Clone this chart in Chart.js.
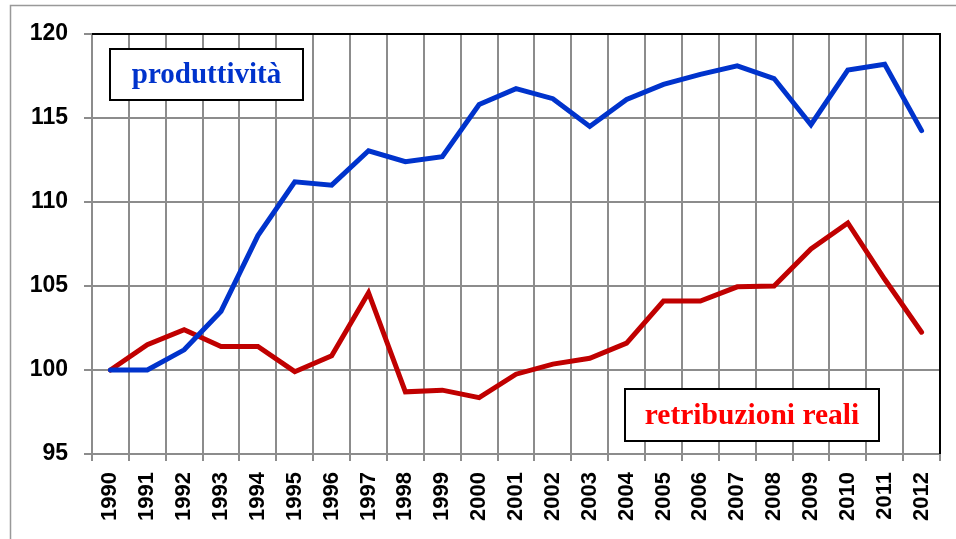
<!DOCTYPE html>
<html>
<head>
<meta charset="utf-8">
<script src="https://cdn.jsdelivr.net/npm/chart.js@4/dist/chart.umd.min.js"></script>
<style>
    html, body { margin: 0; padding: 0; background: #fff; }
    #wrap { width: 956px; height: 539px; }
</style>
</head>
<body>
<div id="wrap"><canvas id="chart" width="956" height="539"></canvas></div>
<script>
const years = ['1990', '1991', '1992', '1993', '1994', '1995', '1996', '1997', '1998', '1999', '2000', '2001',
    '2002', '2003', '2004', '2005', '2006', '2007', '2008', '2009', '2010', '2011', '2012'];
const produttivita = [100, 100.0, 101.2, 103.5, 108.0, 111.2, 111.0, 113.05, 112.4, 112.7, 115.8, 116.75,
    116.15, 114.5, 116.1, 117.0, 117.6, 118.1, 117.35, 114.6, 117.85, 118.2, 114.25];
const retribuzioni = [100, 101.5, 102.4, 101.4, 101.4, 99.9, 100.85, 104.6, 98.7, 98.8, 98.35, 99.75,
    100.35, 100.7, 101.6, 104.1, 104.1, 104.95, 105.0, 107.2, 108.75, 105.4, 102.25];
const yTicks = [95, 100, 105, 110, 115, 120];

const gridColor = '#8c8c8c';

// frame, top/right border and the two label boxes
const decorPlugin = {
    id: 'decor',
    beforeDraw(chart) {
        const c = chart.ctx;
        c.save();
        c.strokeStyle = '#999';
        c.lineWidth = 1.5;
        c.beginPath();
        c.moveTo(10.5, 539);
        c.lineTo(10.5, 5.5);
        c.lineTo(956, 5.5);
        c.stroke();
        c.restore();
    },
    afterDraw(chart) {
        const c = chart.ctx;
        const a = chart.chartArea;
        c.save();
        c.strokeStyle = '#000';
        c.lineWidth = 2;
        c.beginPath();
        c.moveTo(a.left, a.top);
        c.lineTo(a.right, a.top);
        c.lineTo(a.right, a.bottom);
        c.stroke();

        function box(x, y, w, h, text, color, size) {
            c.fillStyle = '#fff';
            c.fillRect(x, y, w, h);
            c.strokeStyle = '#000';
            c.lineWidth = 2;
            c.strokeRect(x, y, w, h);
            c.fillStyle = color;
            c.font = 'bold ' + size + 'px "Liberation Serif", "DejaVu Serif", serif';
            c.textAlign = 'center';
            c.textBaseline = 'middle';
            c.fillText(text, x + w / 2, y + h / 2 + 1);
        }
        box(a.left + 18, a.top + 15, 193, 51, 'produttività', '#0033cc', 29);
        box(a.left + 533, a.top + 355, 254, 52, 'retribuzioni reali', '#ff0000', 29.5);
        c.restore();
    }
};

const ctx = document.getElementById('chart').getContext('2d');
new Chart(ctx, {
    type: 'line',
    data: {
        labels: years,
        datasets: [
            {
                label: 'produttività',
                data: produttivita,
                borderColor: '#0033cc',
                borderWidth: 5,
                pointRadius: 0,
                tension: 0,
                borderCapStyle: 'round'
            },
            {
                label: 'retribuzioni reali',
                data: retribuzioni,
                borderColor: '#c00000',
                borderWidth: 5,
                pointRadius: 0,
                tension: 0,
                borderCapStyle: 'round'
            }
        ]
    },
    options: {
        responsive: false,
        animation: false,
        layout: { padding: { top: 34, right: 16, left: 0, bottom: 0 } },
        plugins: {
            legend: { display: false },
            tooltip: { enabled: false }
        },
        scales: {
            x: {
                offset: true,
                grid: { offset: true, color: gridColor, lineWidth: 2, tickLength: 7 },
                border: { color: gridColor, width: 2 },
                ticks: {
                    minRotation: 90,
                    maxRotation: 90,
                    autoSkip: false,
                    padding: 11,
                    color: '#000',
                    font: { family: '"Liberation Sans", Arial, sans-serif', weight: 'bold', size: 22 }
                },
                afterFit(scale) {
                    scale.height = 85;
                    scale.paddingLeft = 0;
                    scale.paddingRight = 0;
                }
            },
            y: {
                min: 95,
                max: 120,
                afterBuildTicks(scale) { scale.ticks = yTicks.map(v => ({ value: v })); },
                grid: { color: gridColor, lineWidth: 2, tickLength: 8 },
                border: { color: gridColor, width: 2 },
                ticks: {
                    padding: 16,
                    color: '#000',
                    font: { family: '"Liberation Sans", Arial, sans-serif', weight: 'bold', size: 23 }
                },
                afterFit(scale) { scale.width = 92; }
            }
        }
    },
    plugins: [decorPlugin]
});
</script>
</body>
</html>
